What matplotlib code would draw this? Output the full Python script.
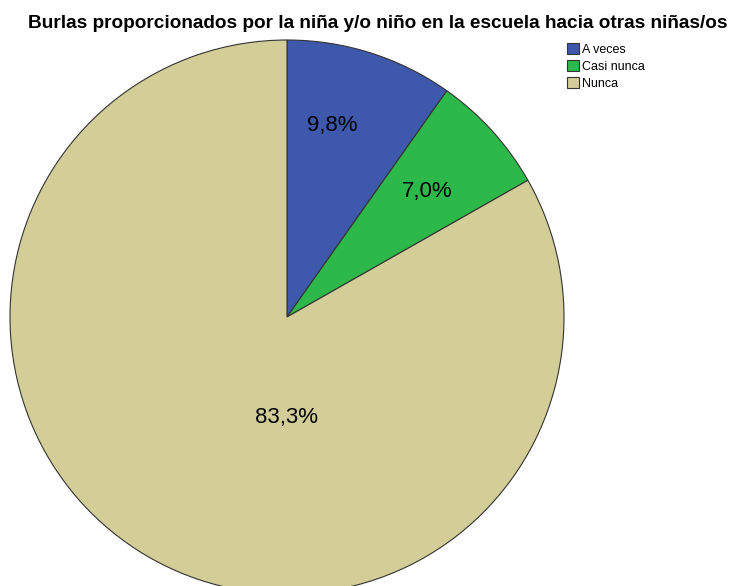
import matplotlib
matplotlib.use("Agg")
import matplotlib.pyplot as plt
import numpy as np
from matplotlib.patches import Patch

# Data
categories = ["A veces", "Casi nunca", "Nunca"]
percents = [9.8, 7.0, 83.3]
label_texts = ["9,8%", "7,0%", "83,3%"]
colors = ["#3E58AC", "#2DB84A", "#D3CE98"]

plt.rcParams["font.family"] = ["Liberation Sans", "DejaVu Sans"]

W, H = 730, 586
fig = plt.figure(figsize=(W / 100, H / 100), dpi=100)
ax = fig.add_axes([0, 0, 1, 1])
ax.set_xlim(0, W)
ax.set_ylim(0, H)
ax.set_aspect("equal")
ax.axis("off")

cx, cy, r = 287, H - 317, 277
wedges, _ = ax.pie(percents, colors=colors, startangle=90, counterclock=False,
                   center=(cx, cy), radius=r, normalize=True,
                   wedgeprops=dict(edgecolor="#333333", linewidth=0.8))
ax.set_xlim(0, W)
ax.set_ylim(0, H)

# label positions (pixels from top-left)
label_pos = [(332, 125), (427, 192), (287, 418)]
for txt, (x, y) in zip(label_texts, label_pos):
    ax.text(x, H - y, txt, ha="center", va="center", fontsize=16)

fig.text(378 / W, 1 - 24 / H,
         "Burlas proporcionados por la niña y/o niño en la escuela hacia otras niñas/os",
         ha="center", va="center", fontsize=13.7, fontweight="bold")

handles = [Patch(facecolor=c, edgecolor="#333333", linewidth=0.8) for c in colors]
fig.legend(handles, categories, loc="upper left", bbox_to_anchor=(567 / W, 1 - 43 / H),
           frameon=False, fontsize=9, handlelength=0.95, handleheight=0.95,
           handletextpad=0.25, labelspacing=0.36, borderpad=0, borderaxespad=0)

fig.savefig("out.png", dpi=100)
